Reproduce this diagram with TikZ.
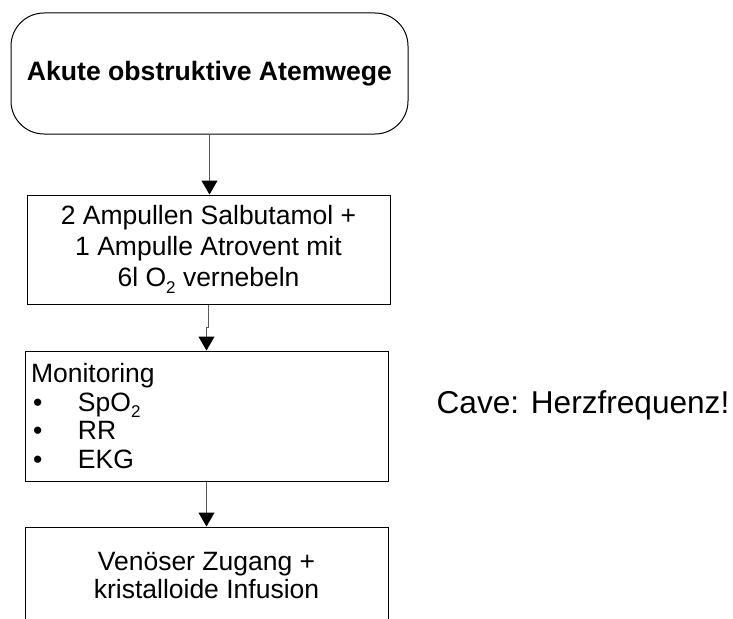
\documentclass[tikz,border=0pt]{standalone}
\usepackage{fontspec}
\setmainfont{Liberation Sans}
\usetikzlibrary{arrows.meta}
% lowered small "2" for chemical formulas
\newcommand{\subtwo}{\raisebox{-0.25em}{\fontsize{17}{17}\selectfont 2}}
\newcommand{\bulletitem}[1]{\makebox[47pt][l]{\hspace{2pt}•}#1}

\begin{document}
\begin{tikzpicture}[x=1pt,y=-1pt,
  box/.style={draw=black, line width=1pt, inner sep=0pt, align=center,
    font=\fontsize{26.5}{29}\selectfont},
  flow/.style={draw=black!65, line width=1pt,
    -{Triangle[length=14pt,width=16pt,color=black]}}]
\useasboundingbox (0,0) rectangle (733,618);
\clip (0,0) rectangle (733,618);

\node[box, rounded corners=33pt, minimum width=397pt, minimum height=121pt,
  font=\fontsize{26.6}{29}\selectfont\bfseries] (start) at (209.5,73.5)
  {Akute obstruktive Atemwege};

\node[box, minimum width=363pt, minimum height=109pt,
  font=\fontsize{26.5}{31}\selectfont] (neb) at (208.5,249.5)
  {2 Ampullen Salbutamol +\\1 Ampulle Atrovent mit\\6l O\subtwo{} vernebeln};

\node[box, minimum width=363pt, minimum height=130pt, text width=351pt,
  align=left, font=\fontsize{26.5}{28.5}\selectfont] (mon) at (206.5,416)
  {Monitoring\\\bulletitem{SpO\subtwo}\\\bulletitem{RR}\\\bulletitem{EKG}};

\node[box, minimum width=363pt, minimum height=98pt,
  font=\fontsize{26.5}{28}\selectfont] (iv) at (206.5,576)
  {Venöser Zugang +\\kristalloide Infusion};

\node[font=\fontsize{31.6}{34}\selectfont, inner sep=0pt] (cave) at (583,405)
  {Cave: Herzfrequenz!};

\draw[flow] (start.south) -- (neb.north -| start.south);
\draw[flow] (neb.south) -- ++(0,23) coordinate (jog) -- (jog -| mon.north) -- (mon.north);
\draw[flow] (mon.south) -- (iv.north);
\end{tikzpicture}
\end{document}
